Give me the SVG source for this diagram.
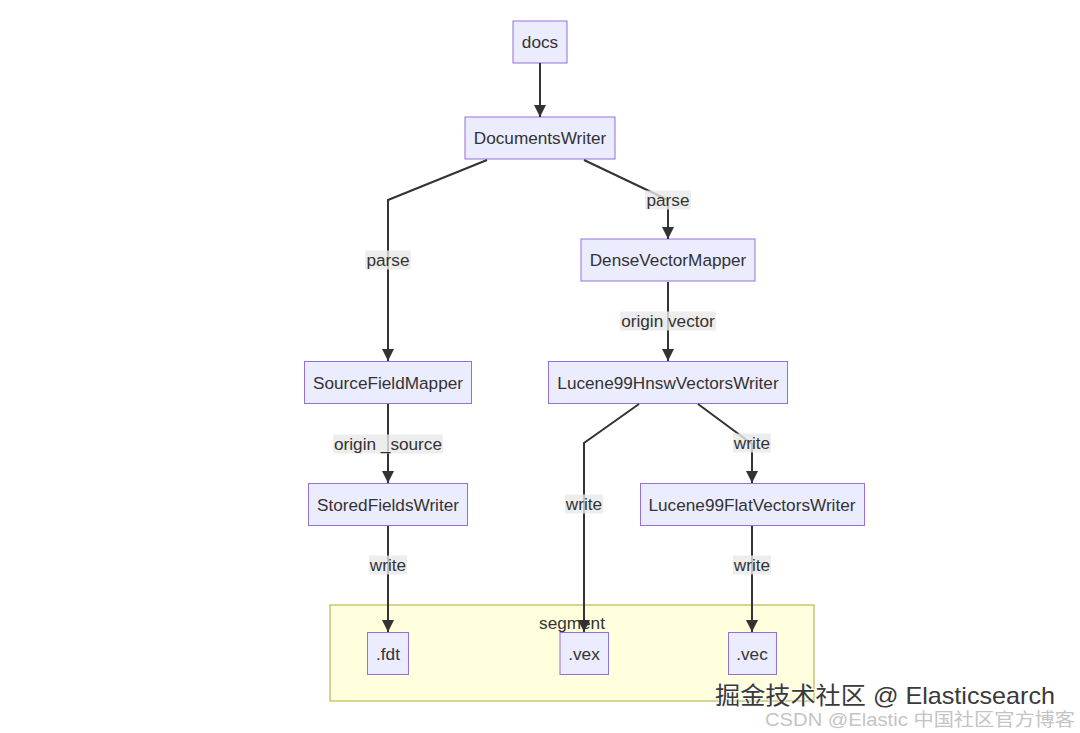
<svg xmlns="http://www.w3.org/2000/svg" width="1080" height="733" viewBox="0 0 1080 733">
<style>
.node rect{fill:#ECECFF;stroke:#9370DB;stroke-width:1}
.node text{font-family:"Liberation Sans",Arial,sans-serif;font-size:17.2px;fill:#333;text-anchor:middle}
.edge{fill:none;stroke:#333;stroke-width:2}
.lbl rect{fill:#e8e8e8;fill-opacity:0.8}
.lbl text{font-family:"Liberation Sans",Arial,sans-serif;font-size:17.2px;fill:#333;text-anchor:middle}
.cluster rect{fill:#ffffde;stroke:#aaaa33;stroke-width:1}
.cluster text{font-family:"Liberation Sans",Arial,sans-serif;font-size:17.2px;fill:#333;text-anchor:middle}
</style>
<defs>
<marker id="arrow" viewBox="0 0 10 10" refX="10" refY="5" markerUnits="userSpaceOnUse" markerWidth="12" markerHeight="12" orient="auto">
<path d="M0,0 L10,5 L0,10 z" fill="#333"/>
</marker>
</defs>
<rect width="1080" height="733" fill="#ffffff"/>
<g id="segment" class="cluster">
<rect x="330" y="605" width="484" height="96"/>
<text x="572" y="629">segment</text>
</g>
<g id="docs" class="node"><rect x="513" y="21" width="54" height="42"/><text x="540" y="48">docs</text></g>
<g id="DocumentsWriter" class="node"><rect x="465" y="117" width="150" height="42"/><text x="540" y="144">DocumentsWriter</text></g>
<g id="DenseVectorMapper" class="node"><rect x="581" y="239" width="174" height="42"/><text x="668" y="266">DenseVectorMapper</text></g>
<g id="SourceFieldMapper" class="node"><rect x="304.5" y="361.5" width="167" height="42"/><text x="388" y="388.5">SourceFieldMapper</text></g>
<g id="Lucene99HnswVectorsWriter" class="node"><rect x="548.5" y="361.5" width="239" height="42"/><text x="668" y="388.5">Lucene99HnswVectorsWriter</text></g>
<g id="StoredFieldsWriter" class="node"><rect x="308.5" y="483.5" width="159" height="42"/><text x="388" y="510.5">StoredFieldsWriter</text></g>
<g id="Lucene99FlatVectorsWriter" class="node"><rect x="640.5" y="483.5" width="224" height="42"/><text x="752" y="510.5">Lucene99FlatVectorsWriter</text></g>
<g id="fdt" class="node"><rect x="367.5" y="632.5" width="41" height="42"/><text x="388" y="659.5">.fdt</text></g>
<g id="vex" class="node"><rect x="560" y="632.5" width="48.5" height="42"/><text x="584" y="659.5">.vex</text></g>
<g id="vec" class="node"><rect x="728.5" y="632.5" width="48" height="42"/><text x="752" y="659.5">.vec</text></g>
<g id="connectors">
<path class="edge" d="M540,63 L540,117" marker-end="url(#arrow)"/>
<path class="edge" d="M487,160 L388,200 L388,361" marker-end="url(#arrow)"/>
<path class="edge" d="M584,160 L668,200 L668,239" marker-end="url(#arrow)"/>
<path class="edge" d="M668,282 L668,361" marker-end="url(#arrow)"/>
<path class="edge" d="M388,404 L388,483" marker-end="url(#arrow)"/>
<path class="edge" d="M639,404 L584,443 L584,632" marker-end="url(#arrow)"/>
<path class="edge" d="M698,404 L752,444 L752,483" marker-end="url(#arrow)"/>
<path class="edge" d="M388,526 L388,632" marker-end="url(#arrow)"/>
<path class="edge" d="M752,526 L752,632" marker-end="url(#arrow)"/>
<g class="lbl"><rect x="365" y="250.5" width="46" height="19"/><text x="388" y="266">parse</text></g>
<g class="lbl"><rect x="645" y="190.5" width="46" height="19"/><text x="668" y="206">parse</text></g>
<g class="lbl"><rect x="620" y="311.5" width="96" height="19"/><text x="668" y="327">origin vector</text></g>
<g class="lbl"><rect x="333" y="434.5" width="110" height="19"/><text x="388" y="450">origin _source</text></g>
<g class="lbl"><rect x="733" y="433.5" width="38" height="19"/><text x="752" y="449">write</text></g>
<g class="lbl"><rect x="565" y="494.5" width="38" height="19"/><text x="584" y="510">write</text></g>
<g class="lbl"><rect x="369" y="555.5" width="38" height="19"/><text x="388" y="571">write</text></g>
<g class="lbl"><rect x="733" y="555.5" width="38" height="19"/><text x="752" y="571">write</text></g>
</g>
<g id="watermark">
<text x="715" y="704" font-family="'Liberation Sans','Noto Sans CJK SC',sans-serif" font-size="24" fill="#3a3a3a" stroke="#ffffff" stroke-width="1.5" paint-order="stroke" textLength="340" lengthAdjust="spacingAndGlyphs">掘金技术社区 @ Elasticsearch</text>
<text x="765" y="726" font-family="'Liberation Sans','Noto Sans CJK SC',sans-serif" font-size="18" fill="#c4c4c4" textLength="310" lengthAdjust="spacingAndGlyphs">CSDN @Elastic 中国社区官方博客</text>
</g>
</svg>
